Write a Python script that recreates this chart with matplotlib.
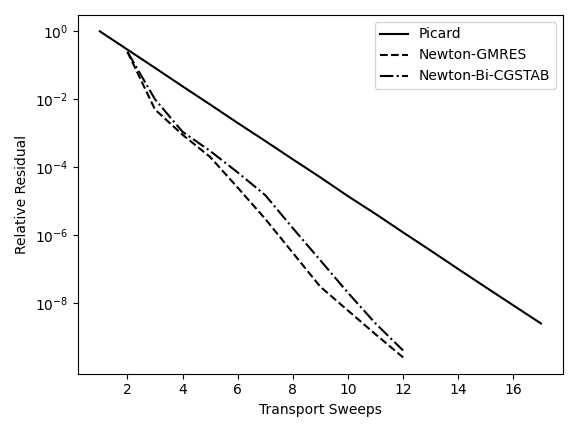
import matplotlib
matplotlib.use("Agg")
import matplotlib.pyplot as plt
import numpy as np

picard_x = np.arange(1, 18)
picard_y = [1.0, 2.9e-1, 8.4e-2, 2.4e-2, 7.0e-3, 2.0e-3, 5.9e-4, 1.7e-4, 5.0e-5,
            1.4e-5, 4.2e-6, 1.2e-6, 3.5e-7, 1.0e-7, 2.9e-8, 8.5e-9, 2.5e-9]

gmres_x = np.arange(2, 13)
gmres_y = [2.5e-1, 5e-3, 9e-4, 2e-4, 2.5e-5, 3e-6, 3e-7, 3e-8, 6e-9, 1.2e-9, 2.5e-10]

bicg_x = np.arange(2, 13)
bicg_y = [2.5e-1, 1e-2, 1.1e-3, 3e-4, 7e-5, 1.5e-5, 1.6e-6, 1.8e-7, 2e-8, 2.5e-9, 4e-10]

fig, ax = plt.subplots(figsize=(5.78, 4.32), dpi=100)
ax.semilogy(picard_x, picard_y, "k-", label="Picard")
ax.semilogy(gmres_x, gmres_y, "k--", label="Newton-GMRES")
ax.semilogy(bicg_x, bicg_y, "k-.", label="Newton-Bi-CGSTAB")
ax.set_xticks([2, 4, 6, 8, 10, 12, 14, 16])
ax.set_yticks([1e0, 1e-2, 1e-4, 1e-6, 1e-8])
ax.set_xlabel("Transport Sweeps")
ax.set_ylabel("Relative Residual")
ax.legend(loc="upper right")
plt.tight_layout()
plt.savefig("out.png")
